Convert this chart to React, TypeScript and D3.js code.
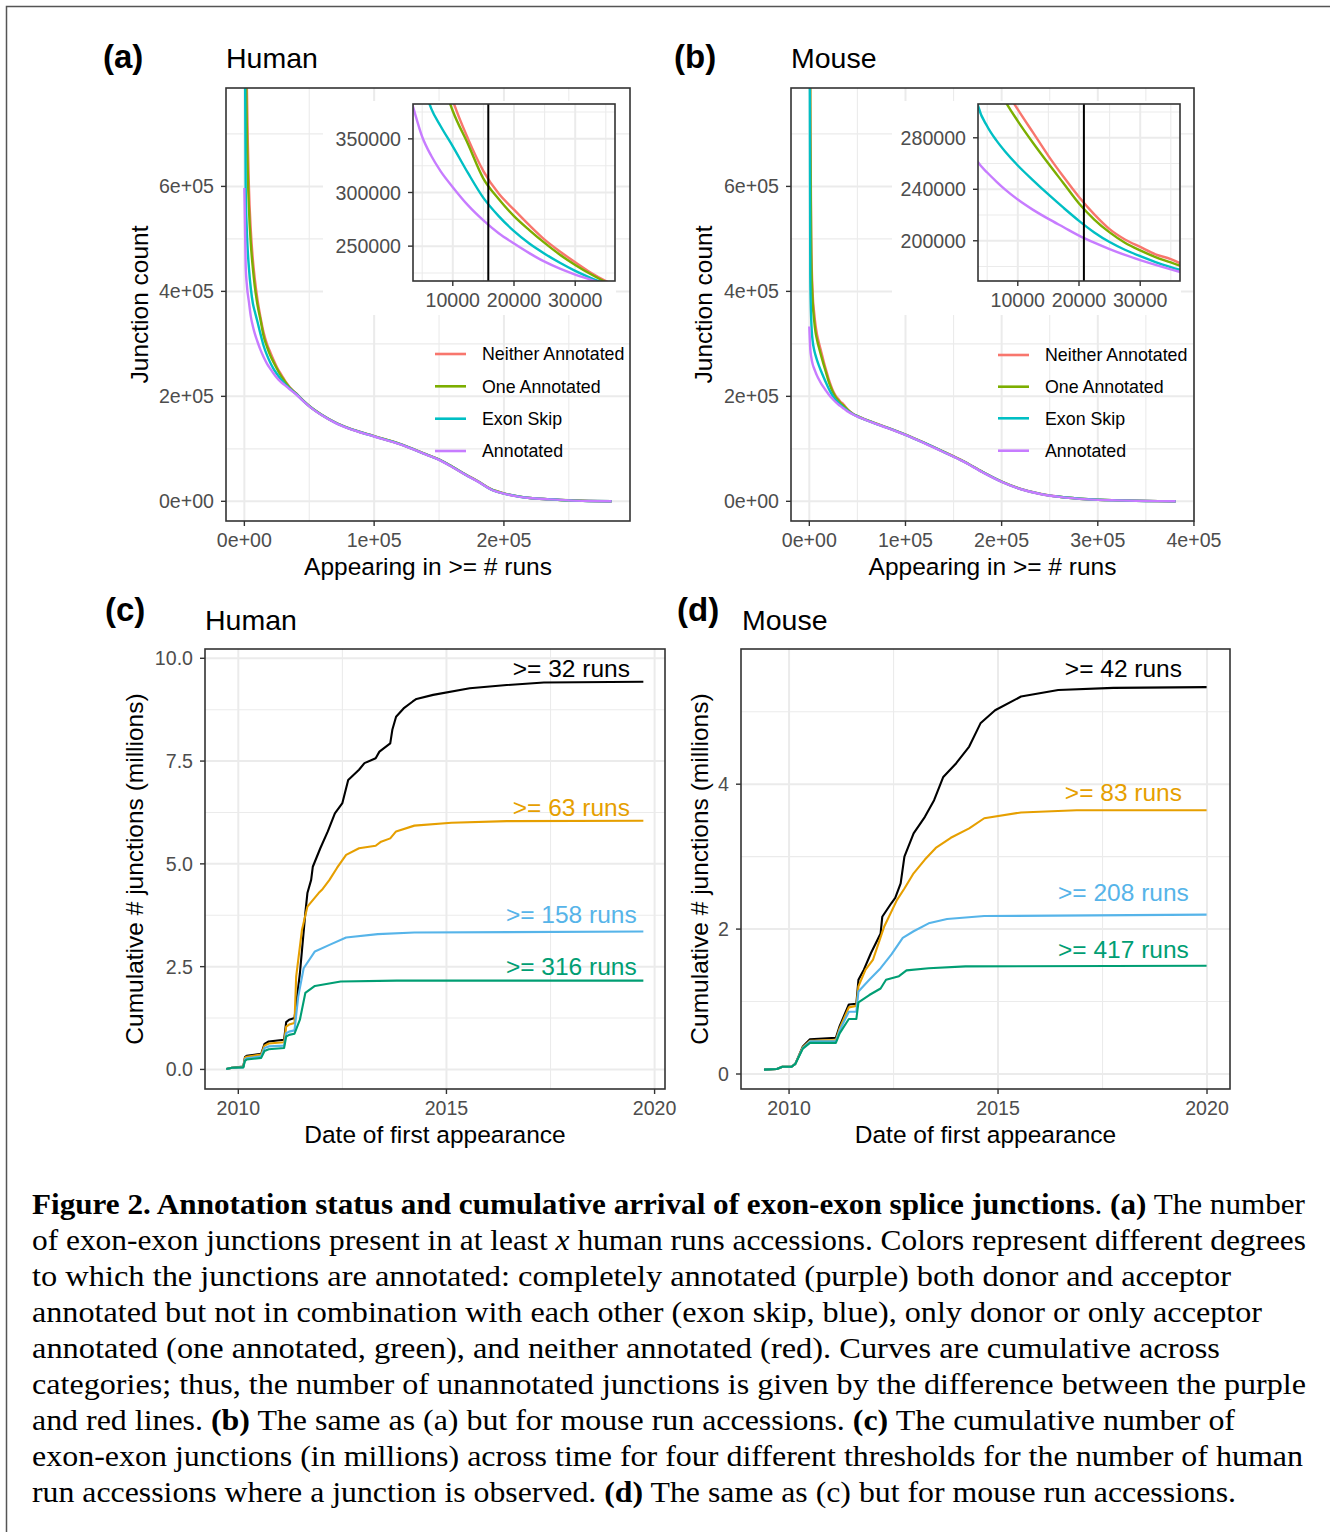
import React from "react";
import * as d3 from "d3";

const SANS = "'Liberation Sans', Arial, Helvetica, sans-serif";
const SERIF = "'Liberation Serif', 'Times New Roman', serif";
const GRID = "#EBEBEB";
const INK = "#333333";
const TICK_TEXT = "#4D4D4D";

// ---------- (a) / (b): junctions seen in >= x runs, by annotation category ----------
const CATEGORIES = ["Neither Annotated", "One Annotated", "Exon Skip", "Annotated"];
const CATEGORY_COLORS = ["#F8766D", "#7CAE00", "#00BFC4", "#C77CFF"];

const HUMAN_RUNS = [1, 1000, 2000, 3500, 5000, 6500, 8000, 10000, 12500, 15000, 17500, 20000, 22500, 25000, 27500, 30000, 32500, 35000, 37500, 40000, 45000, 50000, 60000, 70000, 80000, 100000, 120000, 140000, 150000, 160000, 170000, 180000, 190000, 200000, 210000, 220000, 235000, 250000, 265000, 283000];
const HUMAN_NEITHER = [1700000, 1000000, 780000, 600000, 515000, 462000, 425000, 386000, 350000, 320000, 299000, 284000, 269500, 256000, 245000, 235000, 225500, 217500, 211000, 205500, 193000, 181800, 164300, 150300, 139800, 124300, 109300, 89800, 79800, 66300, 51800, 38300, 23300, 15200, 9900, 6450, 3950, 1920, 750, 120];
const HUMAN_ONE = [1500000, 900000, 700000, 560000, 490000, 445000, 410000, 376000, 345000, 313000, 294000, 278000, 265000, 253000, 242000, 232500, 224000, 216500, 210500, 205000, 192700, 181600, 164100, 150100, 139600, 124100, 109100, 89600, 79600, 66100, 51600, 38100, 23100, 15000, 9800, 6400, 3900, 1900, 740, 120];
const HUMAN_SKIP = [1100000, 600000, 510000, 445000, 405000, 378000, 362000, 343000, 318000, 295000, 278000, 264000, 252500, 243000, 234500, 227000, 220500, 214800, 209500, 204500, 192300, 181300, 163800, 149800, 139300, 123800, 108800, 89300, 79300, 65800, 51300, 37800, 22800, 14700, 9600, 6300, 3850, 1850, 720, 110];
const HUMAN_ANNOTATED = [597000, 450000, 410000, 380000, 352000, 334000, 320000, 305000, 288000, 274000, 262000, 252500, 243500, 235500, 229000, 223500, 218700, 213500, 208500, 203500, 192000, 181000, 163500, 149500, 139000, 123500, 108500, 89000, 79000, 65500, 51000, 37500, 22500, 14500, 9500, 6200, 3800, 1800, 700, 100];
const HUMAN_CUTOFF = 15800;

const MOUSE_RUNS = [1, 1000, 2000, 3500, 5000, 6500, 8000, 10000, 12500, 15000, 17500, 20000, 22500, 25000, 27500, 30000, 32500, 35000, 37500, 40000, 45000, 50000, 60000, 70000, 80000, 100000, 120000, 140000, 160000, 180000, 200000, 220000, 240000, 260000, 290000, 320000, 350000, 381000];
const MOUSE_NEITHER = [1800000, 760000, 500000, 395000, 360000, 335000, 318000, 302000, 284000, 266000, 249500, 234000, 220500, 209000, 201000, 195200, 189500, 185800, 180300, 175000, 167500, 162400, 154800, 147800, 141300, 127300, 111300, 94300, 76800, 56300, 37800, 23600, 14400, 8750, 3950, 1920, 750, 120];
const MOUSE_ONE = [1600000, 700000, 470000, 380000, 345000, 322000, 308000, 293000, 276000, 260000, 244500, 229000, 216500, 206500, 198500, 192500, 187300, 183200, 178800, 174300, 167000, 162200, 154600, 147600, 141100, 127100, 111100, 94100, 76600, 56100, 37600, 23400, 14300, 8700, 3900, 1900, 740, 120];
const MOUSE_SKIP = [1200000, 430000, 345000, 305000, 289000, 278000, 269000, 258500, 247000, 236000, 225500, 215500, 206500, 199000, 193000, 188000, 183500, 179600, 176000, 172300, 166500, 161900, 154300, 147300, 140800, 126800, 110800, 93800, 76300, 55800, 37300, 23200, 14150, 8600, 3850, 1850, 720, 110];
const MOUSE_ANNOTATED = [333000, 290000, 275000, 261000, 253000, 246000, 239500, 232000, 224000, 217000, 210500, 204000, 198500, 193500, 189000, 185000, 181300, 177800, 174500, 171000, 166000, 161500, 154000, 147000, 140500, 126500, 110500, 93500, 76000, 55500, 37000, 23000, 14000, 8500, 3800, 1800, 700, 100];
const MOUSE_CUTOFF = 20800;

const COUNT_Y_MAJOR = [0, 2e5, 4e5, 6e5];
const COUNT_Y_MINOR = [1e5, 3e5, 5e5, 7e5];
const HUMAN_X_MAJOR = [0, 1e5, 2e5];
const HUMAN_X_MINOR = [5e4, 1.5e5, 2.5e5];
const MOUSE_X_MAJOR = [0, 1e5, 2e5, 3e5, 4e5];
const MOUSE_X_MINOR = [5e4, 1.5e5, 2.5e5, 3.5e5];
const INSET_X_MAJOR = [10000, 20000, 30000];
const INSET_X_MINOR = [5000, 15000, 25000, 35000];
const HUMAN_INSET_Y_MAJOR = [250000, 300000, 350000];
const HUMAN_INSET_Y_MINOR = [225000, 275000, 325000, 375000];
const MOUSE_INSET_Y_MAJOR = [200000, 240000, 280000];
const MOUSE_INSET_Y_MINOR = [180000, 220000, 260000, 300000];

// ---------- (c) / (d): cumulative junctions over time ----------
const THRESHOLD_COLORS = ["#000000", "#E69F00", "#56B4E9", "#009E73"];
const HUMAN_THRESHOLDS = [">= 32 runs", ">= 63 runs", ">= 158 runs", ">= 316 runs"];
const MOUSE_THRESHOLDS = [">= 42 runs", ">= 83 runs", ">= 208 runs", ">= 417 runs"];

const HUMAN_DATES_32 = [2009.71, 2009.85, 2010.12, 2010.16, 2010.2, 2010.55, 2010.63, 2010.73, 2011.1, 2011.15, 2011.22, 2011.35, 2011.48, 2011.61, 2011.66, 2011.75, 2011.79, 2011.97, 2012.15, 2012.32, 2012.5, 2012.64, 2012.9, 2013.03, 2013.3, 2013.39, 2013.65, 2013.7, 2013.79, 2013.97, 2014.19, 2014.28, 2014.68, 2015.56, 2016.45, 2017.34, 2019.73];
const HUMAN_MILLIONS_32 = [0.01, 0.04, 0.07, 0.3, 0.33, 0.38, 0.62, 0.68, 0.72, 1.15, 1.21, 1.25, 2.34, 3.8, 4.29, 4.61, 4.93, 5.38, 5.79, 6.23, 6.48, 7.04, 7.29, 7.45, 7.57, 7.73, 7.93, 8.26, 8.58, 8.78, 8.95, 9.01, 9.11, 9.27, 9.35, 9.41, 9.43];
const HUMAN_DATES_63 = [2009.71, 2009.85, 2010.12, 2010.16, 2010.2, 2010.55, 2010.63, 2010.73, 2011.1, 2011.15, 2011.22, 2011.35, 2011.39, 2011.53, 2011.66, 2011.93, 2012.01, 2012.19, 2012.37, 2012.59, 2012.9, 2013.3, 2013.43, 2013.65, 2013.79, 2014.23, 2015.12, 2016.45, 2019.73];
const HUMAN_MILLIONS_63 = [0.01, 0.04, 0.06, 0.28, 0.31, 0.36, 0.58, 0.63, 0.66, 1.04, 1.09, 1.13, 2.26, 3.4, 3.96, 4.29, 4.37, 4.61, 4.9, 5.22, 5.38, 5.44, 5.54, 5.62, 5.79, 5.93, 6.0, 6.04, 6.05];
const HUMAN_DATES_158 = [2009.71, 2009.85, 2010.12, 2010.16, 2010.2, 2010.55, 2010.63, 2010.73, 2011.1, 2011.15, 2011.22, 2011.35, 2011.44, 2011.57, 2011.84, 2012.19, 2012.59, 2013.35, 2014.23, 2019.73];
const HUMAN_MILLIONS_158 = [0.01, 0.04, 0.05, 0.24, 0.27, 0.32, 0.52, 0.56, 0.58, 0.88, 0.92, 0.95, 1.77, 2.46, 2.87, 3.03, 3.21, 3.29, 3.33, 3.355];
const HUMAN_DATES_316 = [2009.71, 2009.85, 2010.12, 2010.16, 2010.2, 2010.55, 2010.63, 2010.73, 2011.1, 2011.15, 2011.22, 2011.35, 2011.48, 2011.61, 2011.84, 2012.46, 2013.8, 2019.73];
const HUMAN_MILLIONS_316 = [0.01, 0.04, 0.05, 0.21, 0.24, 0.28, 0.45, 0.49, 0.52, 0.8, 0.84, 0.87, 1.21, 1.86, 2.03, 2.14, 2.16, 2.16];

const MOUSE_DATES_42 = [2009.4, 2009.71, 2009.84, 2010.06, 2010.15, 2010.33, 2010.5, 2011.12, 2011.21, 2011.43, 2011.61, 2011.66, 2011.79, 2011.96, 2012.19, 2012.23, 2012.45, 2012.54, 2012.67, 2012.76, 2012.98, 2013.25, 2013.47, 2013.69, 2014.0, 2014.31, 2014.58, 2014.93, 2015.55, 2016.44, 2017.76, 2019.99];
const MOUSE_MILLIONS_42 = [0.06, 0.07, 0.1, 0.1, 0.14, 0.38, 0.48, 0.5, 0.66, 0.96, 0.97, 1.3, 1.44, 1.67, 1.94, 2.17, 2.36, 2.43, 2.63, 3.0, 3.32, 3.55, 3.78, 4.1, 4.29, 4.52, 4.84, 5.02, 5.21, 5.3, 5.33, 5.34];
const MOUSE_DATES_83 = [2009.4, 2009.71, 2009.84, 2010.06, 2010.15, 2010.33, 2010.5, 2011.12, 2011.21, 2011.43, 2011.61, 2011.66, 2011.83, 2012.01, 2012.28, 2012.58, 2012.76, 2012.98, 2013.25, 2013.51, 2013.87, 2014.31, 2014.67, 2015.55, 2016.88, 2019.99];
const MOUSE_MILLIONS_83 = [0.06, 0.07, 0.1, 0.1, 0.14, 0.37, 0.46, 0.47, 0.63, 0.92, 0.94, 1.21, 1.44, 1.58, 2.04, 2.4, 2.56, 2.77, 2.96, 3.12, 3.26, 3.39, 3.53, 3.61, 3.64, 3.64];
const MOUSE_DATES_208 = [2009.4, 2009.71, 2009.84, 2010.06, 2010.15, 2010.33, 2010.5, 2011.12, 2011.21, 2011.43, 2011.61, 2011.66, 2011.92, 2012.19, 2012.45, 2012.72, 2012.98, 2013.34, 2013.78, 2014.67, 2019.99];
const MOUSE_MILLIONS_208 = [0.06, 0.07, 0.1, 0.1, 0.14, 0.36, 0.45, 0.45, 0.6, 0.86, 0.86, 1.14, 1.3, 1.46, 1.65, 1.88, 1.97, 2.08, 2.14, 2.18, 2.2];
const MOUSE_DATES_417 = [2009.4, 2009.71, 2009.84, 2010.06, 2010.15, 2010.33, 2010.5, 2011.12, 2011.21, 2011.43, 2011.61, 2011.66, 2011.92, 2012.19, 2012.32, 2012.63, 2012.81, 2013.34, 2014.22, 2019.99];
const MOUSE_MILLIONS_417 = [0.06, 0.07, 0.1, 0.1, 0.14, 0.35, 0.43, 0.43, 0.56, 0.76, 0.76, 0.99, 1.09, 1.18, 1.3, 1.35, 1.43, 1.46, 1.485, 1.494];

const LABEL_YEAR = 2018;
const HUMAN_LABEL_Y = [9.54, 6.17, 3.56, 2.3];
const MOUSE_LABEL_Y = [5.484, 3.774, 2.381, 1.6];

const YEAR_MAJOR = [2010, 2015, 2020];
const YEAR_MINOR = [2012.5, 2017.5];
const HUMAN_M_MAJOR = [0, 2.5, 5, 7.5, 10];
const HUMAN_M_MINOR = [1.25, 3.75, 6.25, 8.75];
const MOUSE_M_MAJOR = [0, 2, 4];
const MOUSE_M_MINOR = [1, 3, 5];

// ---------- caption ----------
const CAPTION: [string, string][][] = [
  [["Figure 2. Annotation status and cumulative arrival of exon-exon splice junctions", "b"], [". ", "n"], ["(a)", "b"], [" The number", "n"]],
  [["of exon-exon junctions present in at least ", "n"], ["x", "i"], [" human runs accessions. Colors represent different degrees", "n"]],
  [["to which the junctions are annotated: completely annotated (purple) both donor and acceptor", "n"]],
  [["annotated but not in combination with each other (exon skip, blue), only donor or only acceptor", "n"]],
  [["annotated (one annotated, green), and neither annotated (red). Curves are cumulative across", "n"]],
  [["categories; thus, the number of unannotated junctions is given by the difference between the purple", "n"]],
  [["and red lines. ", "n"], ["(b)", "b"], [" The same as (a) but for mouse run accessions. ", "n"], ["(c)", "b"], [" The cumulative number of", "n"]],
  [["exon-exon junctions (in millions) across time for four different thresholds for the number of human", "n"]],
  [["run accessions where a junction is observed. ", "n"], ["(d)", "b"], [" The same as (c) but for mouse run accessions.", "n"]],
];
const CAPTION_RIGHT = [1305, 1306, 1231, 1262, 1220, 1306, 1235, 1303, 1236];

const sci = (v: number) => (v === 0 ? "0e+00" : `${Math.round(v / 1e5)}e+05`);

function Grid({ x, y, xMajor, xMinor, yMajor, yMinor, box }: any) {
  const [l, t, r, b] = box;
  return (
    <g>
      {yMinor.map((v: number) => <line key={"ym" + v} x1={l} x2={r} y1={y(v)} y2={y(v)} stroke={GRID} strokeWidth={1.1} />)}
      {xMinor.map((v: number) => <line key={"xm" + v} x1={x(v)} x2={x(v)} y1={t} y2={b} stroke={GRID} strokeWidth={1.1} />)}
      {yMajor.map((v: number) => <line key={"yM" + v} x1={l} x2={r} y1={y(v)} y2={y(v)} stroke={GRID} strokeWidth={2} />)}
      {xMajor.map((v: number) => <line key={"xM" + v} x1={x(v)} x2={x(v)} y1={t} y2={b} stroke={GRID} strokeWidth={2} />)}
    </g>
  );
}

function Axes({ x, y, xTicks, yTicks, box, fx, fy, size = 19.6 }: any) {
  const [l, , , b] = box;
  return (
    <g fontFamily={SANS} fontSize={size} fill={TICK_TEXT}>
      {yTicks.map((v: number) => (
        <g key={"y" + v}>
          <line x1={l - 5} x2={l} y1={y(v)} y2={y(v)} stroke={INK} strokeWidth={1.4} />
          <text x={l - 12} y={y(v)} dy="0.36em" textAnchor="end">{fy(v)}</text>
        </g>
      ))}
      {xTicks.map((v: number) => (
        <g key={"x" + v}>
          <line x1={x(v)} x2={x(v)} y1={b} y2={b + 5} stroke={INK} strokeWidth={1.4} />
          <text x={x(v)} y={b + 25.7} textAnchor="middle">{fx(v)}</text>
        </g>
      ))}
    </g>
  );
}

function Headings({ tag, tagX, tagY, title, titleX, titleY }: any) {
  return (
    <g fontFamily={SANS} fill="#000">
      <text x={tagX} y={tagY} fontSize={33} fontWeight="bold">{tag}</text>
      <text x={titleX} y={titleY} fontSize={28.5}>{title}</text>
    </g>
  );
}

function CountPanel({ cfg }: any) {
  const { left, right, inset } = cfg;
  const top = 88, bottom = 521;
  const x = d3.scaleLinear().domain(cfg.xDomain).range([left, right]);
  const y = d3.scaleLinear().domain([-37500, 787500]).range([bottom, top]);
  const ix = d3.scaleLinear().domain([3500, 36500]).range([inset.left, inset.right]);
  const iy = d3.scaleLinear().domain(inset.yDomain).range([inset.bottom, inset.top]);
  const mainLine = d3.line<number>().x((_, i) => x(cfg.runs[i])).y((v) => y(v)).curve(d3.curveMonotoneX);
  const insetLine = d3.line<number>().x((_, i) => ix(cfg.runs[i])).y((v) => iy(v)).curve(d3.curveMonotoneX);
  const box = [left, top, right, bottom];
  const ibox = [inset.left, inset.top, inset.right, inset.bottom];
  const [bl, bt, br, bb] = inset.bg;
  return (
    <g>
      <defs>
        <clipPath id={cfg.id + "-main"}><rect x={left} y={top} width={right - left} height={bottom - top} /></clipPath>
        <clipPath id={cfg.id + "-inset"}><rect x={inset.left} y={inset.top} width={inset.right - inset.left} height={inset.bottom - inset.top} /></clipPath>
      </defs>
      <Headings tag={cfg.tag} tagX={cfg.tagX} tagY={68} title={cfg.title} titleX={left} titleY={68} />
      <rect x={left} y={top} width={right - left} height={bottom - top} fill="#fff" />
      <Grid x={x} y={y} xMajor={cfg.xMajor} xMinor={cfg.xMinor} yMajor={COUNT_Y_MAJOR} yMinor={COUNT_Y_MINOR} box={box} />
      <g clipPath={`url(#${cfg.id}-main)`} fill="none" strokeWidth={2.4} strokeLinejoin="round">
        {cfg.series.map((vals: number[], i: number) => (
          <path key={i} d={mainLine(vals) || ""} stroke={CATEGORY_COLORS[i]} />
        ))}
      </g>
      {/* inset */}
      <rect x={bl} y={bt} width={br - bl} height={bb - bt} fill="#fff" />
      <Grid x={ix} y={iy} xMajor={INSET_X_MAJOR} xMinor={INSET_X_MINOR} yMajor={inset.yMajor} yMinor={inset.yMinor} box={ibox} />
      <g clipPath={`url(#${cfg.id}-inset)`} fill="none" strokeWidth={2.4} strokeLinejoin="round">
        {cfg.series.map((vals: number[], i: number) => (
          <path key={i} d={insetLine(vals) || ""} stroke={CATEGORY_COLORS[i]} />
        ))}
        <line x1={ix(cfg.cutoff)} x2={ix(cfg.cutoff)} y1={inset.top} y2={inset.bottom} stroke="#000" strokeWidth={2} />
      </g>
      <rect x={inset.left} y={inset.top} width={inset.right - inset.left} height={inset.bottom - inset.top} fill="none" stroke={INK} strokeWidth={1.6} />
      <Axes x={ix} y={iy} xTicks={INSET_X_MAJOR} yTicks={inset.yMajor} box={ibox} fx={String} fy={String} />
      {/* legend */}
      <g fontFamily={SANS} fontSize={17.8} fill="#000">
        {CATEGORIES.map((c, i) => (
          <g key={c}>
            <line x1={cfg.legend.keyX} x2={cfg.legend.keyX + 31} y1={cfg.legend.rows[i]} y2={cfg.legend.rows[i]} stroke={CATEGORY_COLORS[i]} strokeWidth={2.6} />
            <text x={cfg.legend.textX} y={cfg.legend.rows[i]} dy="0.36em">{c}</text>
          </g>
        ))}
      </g>
      <rect x={left} y={top} width={right - left} height={bottom - top} fill="none" stroke={INK} strokeWidth={1.6} />
      <Axes x={x} y={y} xTicks={cfg.xMajor} yTicks={COUNT_Y_MAJOR} box={box} fx={sci} fy={sci} />
      <g fontFamily={SANS} fontSize={24.5} fill="#000">
        <text x={(left + right) / 2} y={bottom + 54} textAnchor="middle">Appearing in &gt;= # runs</text>
        <text transform={`translate(${cfg.yTitleX},${(top + bottom) / 2}) rotate(-90)`} textAnchor="middle">Junction count</text>
      </g>
    </g>
  );
}

function TimePanel({ cfg }: any) {
  const { left, right } = cfg;
  const top = 649, bottom = 1089;
  const x = d3.scaleLinear().domain(cfg.xDomain).range([left, right]);
  const y = d3.scaleLinear().domain(cfg.yDomain).range([bottom, top]);
  const box = [left, top, right, bottom];
  return (
    <g>
      <defs>
        <clipPath id={cfg.id + "-clip"}><rect x={left} y={top} width={right - left} height={bottom - top} /></clipPath>
      </defs>
      <Headings tag={cfg.tag} tagX={cfg.tagX} tagY={621} title={cfg.title} titleX={cfg.titleX} titleY={630} />
      <rect x={left} y={top} width={right - left} height={bottom - top} fill="#fff" />
      <Grid x={x} y={y} xMajor={YEAR_MAJOR} xMinor={YEAR_MINOR} yMajor={cfg.yMajor} yMinor={cfg.yMinor} box={box} />
      <g clipPath={`url(#${cfg.id}-clip)`} fill="none" strokeWidth={2.1} strokeLinejoin="round">
        {cfg.series.map((s: [number[], number[]], i: number) => {
          const [dates, vals] = s;
          const line = d3.line<number>().x((_, j) => x(dates[j])).y((v) => y(v));
          return <path key={i} d={line(vals) || ""} stroke={THRESHOLD_COLORS[i]} />;
        })}
      </g>
      <g fontFamily={SANS} fontSize={24.5} textAnchor="middle">
        {cfg.labels.map((t: string, i: number) => (
          <text key={t} x={x(LABEL_YEAR)} y={y(cfg.labelY[i])} fill={THRESHOLD_COLORS[i]}>{t}</text>
        ))}
      </g>
      <rect x={left} y={top} width={right - left} height={bottom - top} fill="none" stroke={INK} strokeWidth={1.6} />
      <Axes x={x} y={y} xTicks={YEAR_MAJOR} yTicks={cfg.yMajor} box={box} fx={String} fy={cfg.fy} />
      <g fontFamily={SANS} fontSize={24.5} fill="#000">
        <text x={(left + right) / 2} y={bottom + 54} textAnchor="middle">Date of first appearance</text>
        <text transform={`translate(${cfg.yTitleX},${(top + bottom) / 2}) rotate(-90)`} textAnchor="middle">Cumulative # junctions (millions)</text>
      </g>
    </g>
  );
}

function Caption() {
  return (
    <g fontFamily={SERIF} fontSize={29} fill="#000" style={{ whiteSpace: "pre" }}>
      {CAPTION.map((segs, i) => (
        <text key={i} x={32} y={1214 + 36 * i} textLength={CAPTION_RIGHT[i] - 32} lengthAdjust="spacingAndGlyphs">
          {segs.map(([t, s], j) => (
            <tspan key={j} fontWeight={s === "b" ? "bold" : "normal"} fontStyle={s === "i" ? "italic" : "normal"}>{t}</tspan>
          ))}
        </text>
      ))}
    </g>
  );
}

export default function App() {
  const human = {
    id: "ha", tag: "(a)", tagX: 103, title: "Human", left: 226, right: 630,
    xDomain: [-14150, 297150], xMajor: HUMAN_X_MAJOR, xMinor: HUMAN_X_MINOR,
    runs: HUMAN_RUNS, series: [HUMAN_NEITHER, HUMAN_ONE, HUMAN_SKIP, HUMAN_ANNOTATED],
    cutoff: HUMAN_CUTOFF, yTitleX: 147.5,
    inset: { left: 413, right: 615, top: 104, bottom: 281, bg: [323, 101, 616, 315], yDomain: [217500, 382500], yMajor: HUMAN_INSET_Y_MAJOR, yMinor: HUMAN_INSET_Y_MINOR },
    legend: { keyX: 435, textX: 482, rows: [354, 386.3, 418.7, 451] },
  };
  const mouse = {
    id: "mb", tag: "(b)", tagX: 674, title: "Mouse", left: 791, right: 1194,
    xDomain: [-19050, 400050], xMajor: MOUSE_X_MAJOR, xMinor: MOUSE_X_MINOR,
    runs: MOUSE_RUNS, series: [MOUSE_NEITHER, MOUSE_ONE, MOUSE_SKIP, MOUSE_ANNOTATED],
    cutoff: MOUSE_CUTOFF, yTitleX: 712,
    inset: { left: 978, right: 1180, top: 104, bottom: 281, bg: [892, 101, 1181, 315], yDomain: [168750, 306250], yMajor: MOUSE_INSET_Y_MAJOR, yMinor: MOUSE_INSET_Y_MINOR },
    legend: { keyX: 998, textX: 1045, rows: [355, 386.7, 418.3, 450.7] },
  };
  const humanTime = {
    id: "hc", tag: "(c)", tagX: 105, title: "Human", titleX: 205, left: 205, right: 665,
    xDomain: [2009.2, 2020.25], yDomain: [-0.476, 10.226], yMajor: HUMAN_M_MAJOR, yMinor: HUMAN_M_MINOR,
    fy: d3.format(".1f"), yTitleX: 143,
    series: [[HUMAN_DATES_32, HUMAN_MILLIONS_32], [HUMAN_DATES_63, HUMAN_MILLIONS_63], [HUMAN_DATES_158, HUMAN_MILLIONS_158], [HUMAN_DATES_316, HUMAN_MILLIONS_316]],
    labels: HUMAN_THRESHOLDS, labelY: HUMAN_LABEL_Y,
  };
  const mouseTime = {
    id: "md", tag: "(d)", tagX: 677, title: "Mouse", titleX: 742, left: 741, right: 1230,
    xDomain: [2008.85, 2020.55], yDomain: [-0.207, 5.866], yMajor: MOUSE_M_MAJOR, yMinor: MOUSE_M_MINOR,
    fy: d3.format("d"), yTitleX: 707.5,
    series: [[MOUSE_DATES_42, MOUSE_MILLIONS_42], [MOUSE_DATES_83, MOUSE_MILLIONS_83], [MOUSE_DATES_208, MOUSE_MILLIONS_208], [MOUSE_DATES_417, MOUSE_MILLIONS_417]],
    labels: MOUSE_THRESHOLDS, labelY: MOUSE_LABEL_Y,
  };
  return (
    <div style={{ position: "absolute", left: 0, top: 0 }}>
      <svg width={1330} height={1532} style={{ display: "block", background: "#fff" }}>
        <rect x={6.5} y={6.5} width={1400} height={1600} fill="none" stroke="#555" strokeWidth={1.5} />
        <CountPanel cfg={human} />
        <CountPanel cfg={mouse} />
        <TimePanel cfg={humanTime} />
        <TimePanel cfg={mouseTime} />
        <Caption />
      </svg>
    </div>
  );
}
